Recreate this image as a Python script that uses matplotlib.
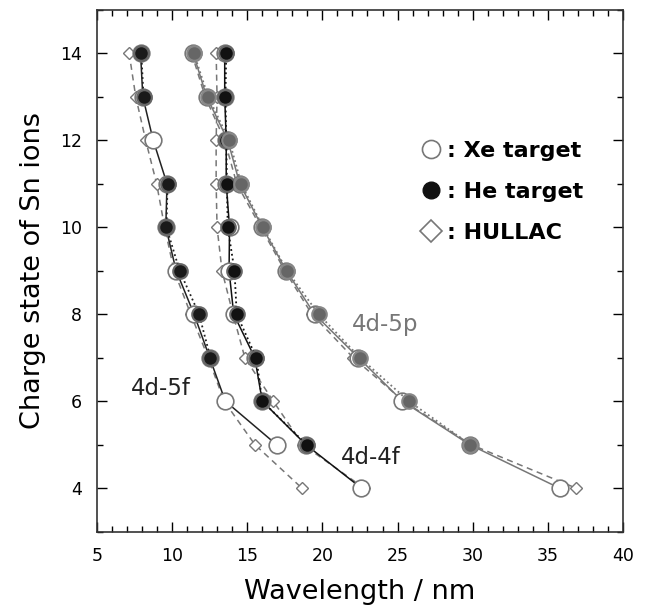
import numpy as np
import matplotlib
import matplotlib.pyplot as plt
from matplotlib.lines import Line2D
from matplotlib.ticker import MultipleLocator

matplotlib.use("Agg")
plt.rcParams['font.family'] = ['DejaVu Sans']

nan = np.nan
charge = [14, 13, 12, 11, 10, 9, 8, 7, 6, 5, 4]

# 4d-5f
f5_xe = [7.90, 8.05, 8.74, 9.66, 9.58, 10.27, 11.46, 12.50, 13.54, 16.95, nan]
f5_he = [7.95, 8.10, nan, 9.70, 9.62, 10.50, 11.79, 12.55, nan, nan, nan]
f5_hullac = [7.14, 7.58, 8.24, 8.97, 9.50, 10.13, 11.24, 12.40, 13.46, 15.51, 18.64]

# 4d-4f
f4_xe = [13.50, 13.50, 13.60, 13.60, 13.82, 13.79, 14.10, 15.50, 16.00, 18.90, 22.60]
f4_he = [13.60, 13.55, 13.60, 13.65, 13.70, 14.15, 14.30, 15.60, 16.00, 18.95, nan]
f4_hullac = [12.93, 12.99, 12.93, 12.93, 12.99, 13.32, 14.05, 14.84, 16.73, 18.70, 22.78]

# 4d-5p
p5_xe = [11.40, 12.30, 13.70, 14.50, 16.00, 17.60, 19.48, 22.40, 25.33, 29.80, 35.78]
p5_he = [11.45, 12.40, 13.80, 14.60, 16.05, 17.65, 19.75, 22.50, 25.75, 29.85, nan]
p5_hullac = [11.30, 12.20, 13.50, 14.30, 15.90, 17.50, 19.30, 22.05, 25.40, 29.90, 36.89]

labels = [": Xe target", ": He target", ": HULLAC"]

fig = plt.figure(figsize=(6.53, 6.09), dpi=100)
ax = fig.add_axes([0.1485, 0.127, 0.8055, 0.857])


def draw_group(xe, he, hul, line_col, he_fill, he_edge):
    ax.plot(hul, charge, ls=(0, (4, 3)), color='#777777', lw=1.1,
            marker='D', ms=6.5, mfc='white', mec='#777777', mew=1.0, zorder=2)
    ax.plot(xe, charge, ls='-', color=line_col, lw=1.1,
            marker='o', ms=12, mfc='white', mec='#777777', mew=1.2, zorder=3)
    ax.plot(he, charge, ls=':', color=line_col, lw=1.3,
            marker='o', ms=10.5, mfc=he_fill, mec=he_edge, mew=1.5, zorder=4)


draw_group(f5_xe, f5_he, f5_hullac, '#222222', '#1a1a1a', '#666666')
draw_group(f4_xe, f4_he, f4_hullac, '#111111', '#111111', '#666666')
draw_group(p5_xe, p5_he, p5_hullac, '#777777', '#666666', '#888888')

ax.text(9.25, 6.3, "4d-5f", fontsize=16.5, color='#222222', ha='center', va='center')
ax.text(23.2, 4.7, "4d-4f", fontsize=16.5, color='#222222', ha='center', va='center')
ax.text(24.2, 7.77, "4d-5p", fontsize=16.5, color='#777777', ha='center', va='center')

handles = [
    Line2D([], [], ls='none', marker='o', ms=13, mfc='white', mec='#777777', mew=1.2),
    Line2D([], [], ls='none', marker='o', ms=12, mfc='#111111', mec='#111111'),
    Line2D([], [], ls='none', marker='D', ms=11, mfc='white', mec='#777777', mew=1.2),
]
ax.legend(handles, labels, loc='upper left', bbox_to_anchor=(0.593, 0.77),
          frameon=False, handlelength=1.0, handletextpad=0.2, labelspacing=0.95,
          borderpad=0, prop={'size': 16, 'weight': 'bold'})

ax.set_xlim(5, 40)
ax.set_ylim(3, 15)
ax.xaxis.set_major_locator(MultipleLocator(5))
ax.xaxis.set_minor_locator(MultipleLocator(1))
ax.yaxis.set_minor_locator(MultipleLocator(1))
ax.set_yticks([4, 6, 8, 10, 12, 14])
ax.tick_params(which='both', direction='in', top=True, right=True, width=1.0)
ax.tick_params(which='major', length=7, labelsize=12.5, pad=11)
ax.tick_params(which='minor', length=4)
for s in ax.spines.values():
    s.set_linewidth(1.2)
    s.set_color('#333333')

ax.set_xlabel("Wavelength / nm", fontsize=19.5, labelpad=10)
ax.set_ylabel("Charge state of Sn ions", fontsize=19.5, labelpad=10)

fig.savefig("out.png", dpi=100)
